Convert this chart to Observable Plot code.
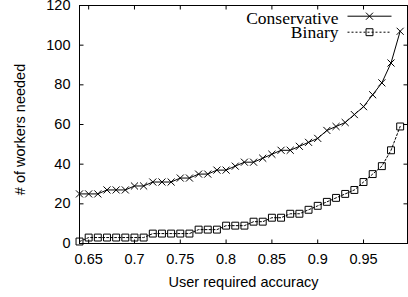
<!DOCTYPE html>
<html><head><meta charset="utf-8">
<script src="https://cdn.jsdelivr.net/npm/d3@7"></script>
<script src="https://cdn.jsdelivr.net/npm/@observablehq/plot@0.6"></script>
<style>
html,body{margin:0;padding:0;background:#fff;}
#chart svg{display:block}
</style></head><body><div id="chart"></div>
<script>
const accuracy = [0.64,0.65,0.66,0.67,0.68,0.69,0.70,0.71,0.72,0.73,0.74,0.75,0.76,0.77,0.78,0.79,0.80,0.81,0.82,0.83,0.84,0.85,0.86,0.87,0.88,0.89,0.90,0.91,0.92,0.93,0.94,0.95,0.96,0.97,0.98,0.99];
const conservative = [25,25,25,27,27,27,29,29,31,31,31,33,33,35,35,37,37,39,41,41,43,45,47,47,49,51,53,57,59,61,65,69,75,81,91,107];
const binary = [1,3,3,3,3,3,3,3,5,5,5,5,5,7,7,7,9,9,9,11,11,13,13,15,15,17,19,21,23,25,27,31,35,39,47,59];
const seriesNames = ["Conservative", "Binary"];
const xTicks = [0.65,0.7,0.75,0.8,0.85,0.9,0.95];
const yTicks = [0,20,40,60,80,100,120];
const xLabel = "User required accuracy";
const yLabel = "# of workers needed";

const cons = accuracy.map((a,i)=>({x:a,y:conservative[i]}));
const bin = accuracy.map((a,i)=>({x:a,y:binary[i]}));

const tickSym = (len, dir) => ({draw(ctx){
  ctx.moveTo(0,0);
  if (dir==="up") ctx.lineTo(0,-len);
  else if (dir==="down") ctx.lineTo(0,len);
  else if (dir==="right") ctx.lineTo(len,0);
  else ctx.lineTo(-len,0);
}});
const hLine = half => ({draw(ctx){ctx.moveTo(-half,0); ctx.lineTo(half,0);}});

const sans = "'Liberation Sans', Arial, Helvetica, sans-serif";
const serif = "'Liberation Serif', 'Times New Roman', serif";
const ink = "#000";

const chart = Plot.plot({
  width: 408, height: 297,
  marginLeft: 79, marginRight: 1, marginTop: 5, marginBottom: 54,
  style: {fontFamily: sans, fontSize: "14.5px", color: ink, background: "#fff", overflow: "visible"},
  x: {domain: [0.64, 0.998]},
  y: {domain: [0, 120]},
  marks: [
    Plot.axisX(xTicks, {tickSize: 0, tickPadding: 10.5, tickFormat: d => String(d), label: null, fontSize: 14.5}),
    Plot.axisY(yTicks, {tickSize: 0, tickPadding: 9, label: null, fontSize: 14.5}),
    Plot.dot(xTicks, {x: d=>d, frameAnchor: "bottom", symbol: tickSym(4,"up"), fill: "none", stroke: ink, strokeWidth: 1}),
    Plot.dot(xTicks, {x: d=>d, frameAnchor: "top", symbol: tickSym(4,"down"), fill: "none", stroke: ink, strokeWidth: 1}),
    Plot.dot(yTicks, {y: d=>d, frameAnchor: "left", symbol: tickSym(4,"right"), fill: "none", stroke: ink, strokeWidth: 1}),
    Plot.dot(yTicks, {y: d=>d, frameAnchor: "right", symbol: tickSym(4,"left"), fill: "none", stroke: ink, strokeWidth: 1}),
    Plot.frame({stroke: ink, strokeWidth: 1}),
    Plot.line(cons, {x: "x", y: "y", stroke: ink, strokeWidth: 1}),
    Plot.dot(cons, {x: "x", y: "y", symbol: "times", r: 3.3, stroke: ink, strokeWidth: 1}),
    Plot.line(bin, {x: "x", y: "y", stroke: ink, strokeWidth: 1, strokeDasharray: "2,2"}),
    Plot.dot(bin, {x: "x", y: "y", symbol: "square", r: 3.9, fill: "none", stroke: ink, strokeWidth: 1}),
    Plot.text([xLabel], {frameAnchor: "bottom", text: d=>d, dy: 39, textAnchor: "middle", lineAnchor: "middle", fontSize: 14.5}),
    Plot.text([yLabel], {frameAnchor: "left", text: d=>d, rotate: -90, dx: -59, dy: 5, textAnchor: "middle", lineAnchor: "middle", fontSize: 14.5}),
    // legend
    Plot.text([seriesNames[0]], {frameAnchor: "top-right", text: d=>d, dx: -69, dy: 18.3, textAnchor: "end", lineAnchor: "bottom", fontFamily: serif, fontSize: 17.5}),
    Plot.text([seriesNames[1]], {frameAnchor: "top-right", text: d=>d, dx: -69, dy: 32.3, textAnchor: "end", lineAnchor: "bottom", fontFamily: serif, fontSize: 17.5}),
    Plot.dot([seriesNames[0]], {frameAnchor: "top-right", dx: -38, dy: 10.7, symbol: hLine(22), fill: "none", stroke: ink, strokeWidth: 1}),
    Plot.dot([seriesNames[0]], {frameAnchor: "top-right", dx: -38, dy: 10.7, symbol: "times", r: 3.3, stroke: ink, strokeWidth: 1}),
    Plot.dot([seriesNames[1]], {frameAnchor: "top-right", dx: -38, dy: 26.7, symbol: hLine(22), fill: "none", stroke: ink, strokeWidth: 1, strokeDasharray: "2,2"}),
    Plot.dot([seriesNames[1]], {frameAnchor: "top-right", dx: -38, dy: 26.7, symbol: "square", r: 3.9, fill: "none", stroke: ink, strokeWidth: 1})
  ]
});
document.getElementById("chart").appendChild(chart);
</script></body></html>
